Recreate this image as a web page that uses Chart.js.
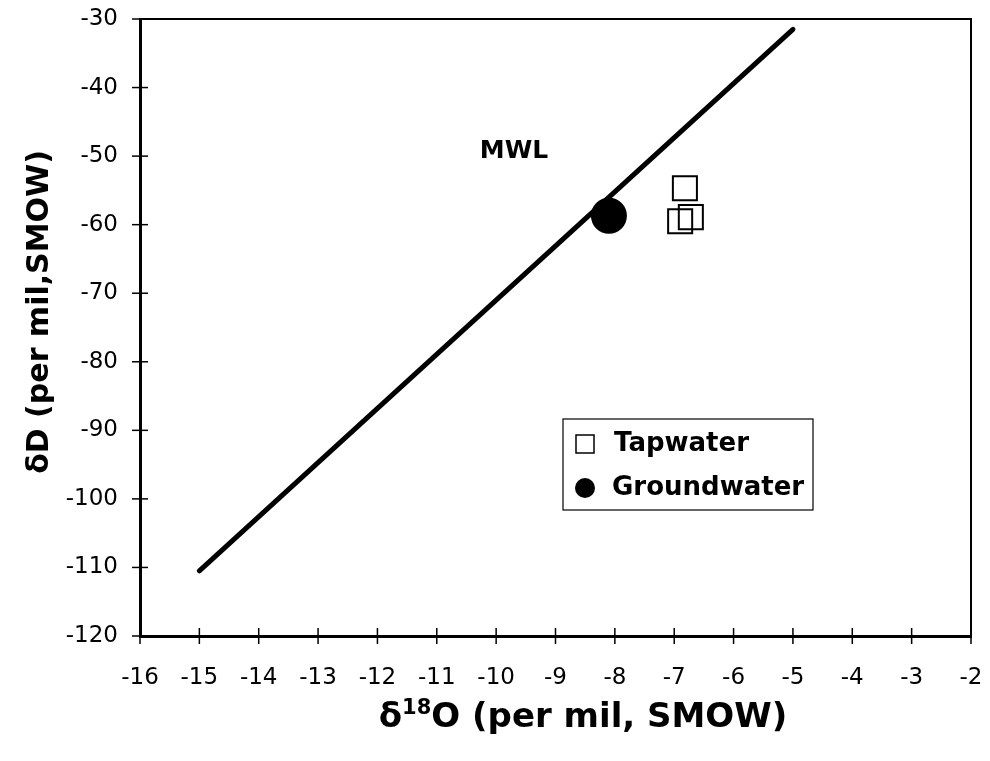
<!DOCTYPE html>
<html>
<head>
<meta charset="utf-8">
<script src="https://cdn.jsdelivr.net/npm/chart.js@4.4.0/dist/chart.umd.min.js"></script>
<style>
  body { margin: 0; background: #fff; }
  #wrap { width: 990px; height: 761px; }
</style>
</head>
<body>
<div id="wrap"><canvas id="isoChart" width="990" height="761"></canvas></div>
<script>
// data
const tapX = [-6.82, -6.72, -6.9];
const tapY = [-54.7, -58.9, -59.5];
const groundX = [-8.1];
const groundY = [-58.7];
const mwlX = [-15, -5];
const mwlY = [-110.5, -31.5];

const xTicks = [-16, -15, -14, -13, -12, -11, -10, -9, -8, -7, -6, -5, -4, -3, -2];
const yTicks = [-120, -110, -100, -90, -80, -70, -60, -50, -40, -30];

const seriesLabels = ["Tapwater", "Groundwater"];
const mwlLabel = "MWL";

const toPoints = (xs, ys) => xs.map((x, i) => ({ x: x, y: ys[i] }));

const FONT = "'DejaVu Sans', 'Liberation Sans', Arial, sans-serif";

// no extra room for overflowing tick labels, the plot box is fixed
const noPad = (scale) => {
  scale.paddingLeft = 0;
  scale.paddingRight = 0;
  scale.paddingTop = 0;
  scale.paddingBottom = 0;
};

// ticks crossing the axes, frame, titles, MWL label and legend
const decorPlugin = {
  id: "decor",
  afterDraw(chart) {
    const ctx = chart.ctx;
    const area = chart.chartArea;
    const xs = chart.scales.x;
    const ys = chart.scales.y;
    ctx.save();
    ctx.strokeStyle = "#000";
    ctx.fillStyle = "#000";

    // top and right frame
    ctx.lineWidth = 2;
    ctx.beginPath();
    ctx.moveTo(area.left, area.top);
    ctx.lineTo(area.right, area.top);
    ctx.lineTo(area.right, area.bottom);
    ctx.stroke();

    // tick marks
    ctx.lineWidth = 1.5;
    xTicks.forEach((v) => {
      const px = xs.getPixelForValue(v);
      ctx.beginPath();
      ctx.moveTo(px, area.bottom - 8);
      ctx.lineTo(px, area.bottom + 8);
      ctx.stroke();
    });
    yTicks.forEach((v) => {
      const py = ys.getPixelForValue(v);
      ctx.beginPath();
      ctx.moveTo(area.left - 8, py);
      ctx.lineTo(area.left + 8, py);
      ctx.stroke();
    });

    // MWL label
    ctx.font = "bold 25px " + FONT;
    ctx.textAlign = "center";
    ctx.textBaseline = "middle";
    ctx.fillText(mwlLabel, xs.getPixelForValue(-9.7), ys.getPixelForValue(-49.3));

    // y axis title
    ctx.save();
    ctx.translate(40, 312);
    ctx.rotate(-Math.PI / 2);
    ctx.font = "bold 30px " + FONT;
    ctx.textAlign = "center";
    ctx.textBaseline = "middle";
    ctx.fillText("\u03B4D (per mil,SMOW)", 0, 0);
    ctx.restore();

    // x axis title with superscript 18
    const big = "bold 34px " + FONT;
    const small = "bold 21px " + FONT;
    ctx.textAlign = "left";
    ctx.textBaseline = "alphabetic";
    ctx.font = big;
    const w1 = ctx.measureText("\u03B4").width;
    const w3 = ctx.measureText("O (per mil, SMOW)").width;
    ctx.font = small;
    const w2 = ctx.measureText("18").width;
    let tx = 583 - (w1 + w2 + w3) / 2;
    const base = 727;
    ctx.font = big;
    ctx.fillText("\u03B4", tx, base);
    tx += w1;
    ctx.font = small;
    ctx.fillText("18", tx, base - 13);
    tx += w2;
    ctx.font = big;
    ctx.fillText("O (per mil, SMOW)", tx, base);

    // legend
    const lx = 563, ly = 419, lw = 250, lh = 91;
    ctx.fillStyle = "#fff";
    ctx.fillRect(lx, ly, lw, lh);
    ctx.fillStyle = "#000";
    ctx.lineWidth = 1.2;
    ctx.strokeRect(lx, ly, lw, lh);
    ctx.lineWidth = 1.5;
    ctx.strokeRect(576, 435, 18, 18);
    ctx.beginPath();
    ctx.arc(585, 488, 10, 0, Math.PI * 2);
    ctx.fill();
    ctx.font = "bold 26px " + FONT;
    ctx.textBaseline = "middle";
    ctx.fillText(seriesLabels[0], 614, 444);
    ctx.fillText(seriesLabels[1], 612, 488);
    ctx.restore();
  }
};

const ctx = document.getElementById("isoChart").getContext("2d");
const isoChart = new Chart(ctx, {
  type: "scatter",
  data: {
    datasets: [
      {
        type: "line",
        label: mwlLabel,
        data: toPoints(mwlX, mwlY),
        borderColor: "#000",
        borderWidth: 5,
        borderCapStyle: "round",
        pointRadius: 0,
        fill: false
      },
      {
        label: seriesLabels[0],
        data: toPoints(tapX, tapY),
        pointStyle: "rect",
        pointRadius: 17,
        borderColor: "#000",
        borderWidth: 2,
        backgroundColor: "rgba(0,0,0,0)"
      },
      {
        label: seriesLabels[1],
        data: toPoints(groundX, groundY),
        pointStyle: "circle",
        pointRadius: 18,
        borderColor: "#000",
        borderWidth: 0,
        backgroundColor: "#000"
      }
    ]
  },
  options: {
    responsive: false,
    animation: false,
    layout: { padding: { left: 0, top: 19, right: 5, bottom: 0 } },
    plugins: {
      legend: { display: false },
      tooltip: { enabled: false }
    },
    scales: {
      x: {
        type: "linear",
        min: -16,
        max: -2,
        afterFit: (scale) => { scale.height = 125; noPad(scale); },
        afterBuildTicks: (scale) => { scale.ticks = xTicks.map((v) => ({ value: v })); },
        grid: { display: false, drawTicks: false },
        border: { display: true, color: "#000", width: 3 },
        ticks: {
          padding: 28,
          color: "#000",
          font: { family: FONT, size: 23 }
        }
      },
      y: {
        type: "linear",
        min: -120,
        max: -30,
        afterFit: (scale) => { scale.width = 140; noPad(scale); },
        afterBuildTicks: (scale) => { scale.ticks = yTicks.map((v) => ({ value: v })); },
        grid: { display: false, drawTicks: false },
        border: { display: true, color: "#000", width: 3 },
        ticks: {
          padding: 22,
          color: "#000",
          font: { family: FONT, size: 23 }
        }
      }
    }
  },
  plugins: [decorPlugin]
});
</script>
</body>
</html>
